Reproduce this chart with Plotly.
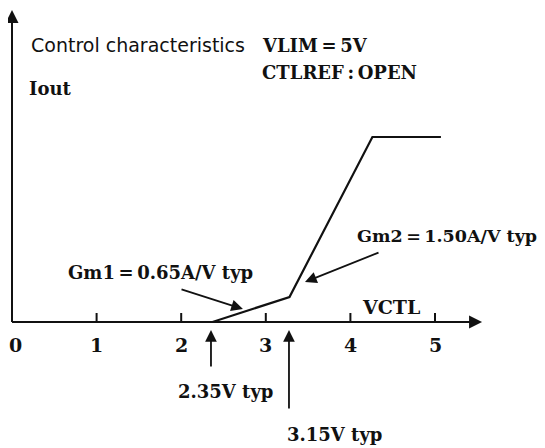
import plotly.graph_objects as go

# ---- data ----
tick_values = [0, 1, 2, 3, 4, 5]
tick_labels = ["0", "1", "2", "3", "4", "5"]
vctl = [0, 2.37, 3.28, 4.26, 5.07]          # V (as drawn)
iout = [0, 0, 0.25, 1.85, 1.85]             # arbitrary units (as drawn)

title_text = "Control characteristics"
cond_texts = ["VLIM\u2009=\u20095V", "CTLREF\u2009:\u2009OPEN"]
y_label = "Iout"
x_label = "VCTL"
gm1_text = "Gm1\u2009=\u20090.65A/V typ"
gm2_text = "Gm2\u2009=\u20091.50A/V typ"
v1_text = "2.35V typ"
v2_text = "3.15V typ"

# page has an 8px body margin, so the figure is slightly smaller and shifted
OFF = 8
W, H = 545 - OFF - 2, 448 - OFF - 2
X0PX, PXU_X = 12 - OFF, 84.6
Y0PX, PXU_Y = 322 - OFF, 100.0
xr = [-X0PX / PXU_X, (W - X0PX) / PXU_X]
yr = [-(H - Y0PX) / PXU_Y, Y0PX / PXU_Y]

SERIF = "DejaVu Serif"
SANS = "DejaVu Sans"
BLK = "#111111"

fig = go.Figure()
fig.add_trace(go.Scatter(x=vctl, y=iout, mode="lines",
                         line=dict(color=BLK, width=2.2), hoverinfo="skip"))

ann = []
shapes = []

def arrow(hx, hy, tx, ty, w=1.8):
    ann.append(dict(x=hx, y=hy, ax=tx, ay=ty, xref="x", yref="y", axref="x", ayref="y",
                    text="", showarrow=True, arrowhead=2, arrowsize=1.3, arrowwidth=w,
                    arrowcolor=BLK, standoff=0, startstandoff=0))

def txt(x, y, t, font=SERIF, size=18, bold=True, xanchor="left"):
    ann.append(dict(x=x, y=y, xref="x", yref="y", text=("<b>%s</b>" % t) if bold else t,
                    showarrow=False, xanchor=xanchor, yanchor="middle",
                    font=dict(family=font, size=size, color=BLK)))

# axes with arrows
arrow(5.556, 0, 0, 0, w=2.0)
arrow(0, 3.12, 0, 0, w=2.0)

# ticks and tick labels (keep the first label inside the page)
min_label_x = (7 - X0PX) / PXU_X
for v, lab in zip(tick_values, tick_labels):
    shapes.append(dict(type="line", xref="x", yref="y", x0=v, x1=v, y0=0, y1=0.09,
                       line=dict(color=BLK, width=2)))
    txt(max(v, min_label_x), -0.23, lab, size=19, xanchor="center")

# texts
txt(0.20, 2.77, title_text, font=SANS, size=19, bold=False)
txt(2.93, 2.77, cond_texts[0])
txt(2.93, 2.50, cond_texts[1])
txt(0.177, 2.34, y_label)
txt(0.638, 0.50, gm1_text)
txt(4.054, 0.86, gm2_text, size=17.5)
txt(4.113, 0.15, x_label, size=19)
txt(1.94, -0.69, v1_text)
txt(3.227, -1.12, v2_text)

# pointer arrows
arrow(2.73, 0.13, 1.986, 0.33)
arrow(3.463, 0.40, 4.35, 0.70)
arrow(2.352, -0.08, 2.352, -0.46)
arrow(3.274, -0.08, 3.274, -0.88)

fig.update_layout(
    width=W, height=H, margin=dict(l=0, r=0, t=0, b=0),
    paper_bgcolor="white", plot_bgcolor="white", showlegend=False,
    xaxis=dict(range=xr, visible=False, fixedrange=True),
    yaxis=dict(range=yr, visible=False, fixedrange=True),
    annotations=ann, shapes=shapes,
)
fig.write_html("out.html")
